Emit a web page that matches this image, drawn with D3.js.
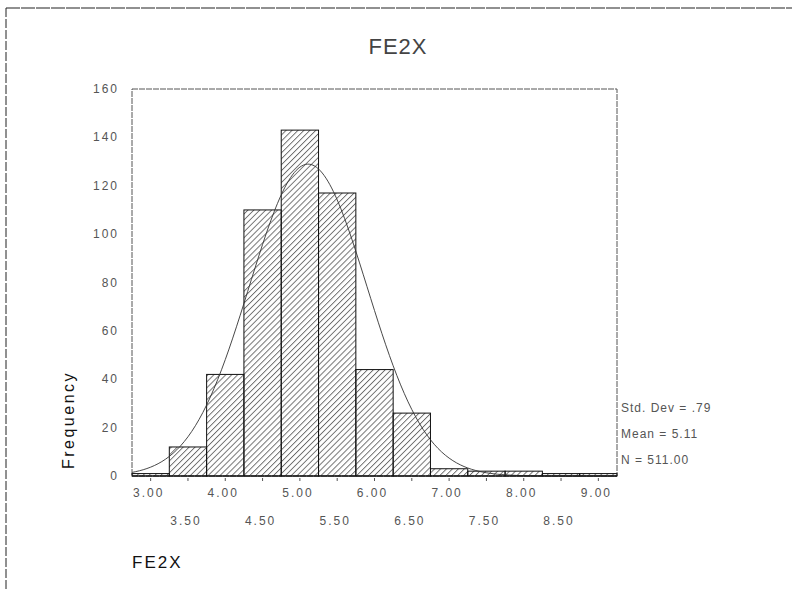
<!DOCTYPE html>
<html>
<head>
<meta charset="utf-8">
<script src="https://cdn.jsdelivr.net/npm/d3@7/dist/d3.min.js"></script>
<style>
  html, body { margin: 0; padding: 0; background: #fff; }
  svg { display: block; }
  text { font-family: "Liberation Sans", Arial, sans-serif; }
</style>
</head>
<body>
<svg id="chart" width="792" height="590"></svg>
<script>
// Histogram of FE2X with fitted normal curve
const binCenters = [3.0, 3.5, 4.0, 4.5, 5.0, 5.5, 6.0, 6.5, 7.0, 7.5, 8.0, 8.5, 9.0];
const frequencies = [1, 12, 42, 110, 143, 117, 44, 26, 3, 2, 2, 1, 1];
const binWidth = 0.5;

const yTicks = [0, 20, 40, 60, 80, 100, 120, 140, 160];
const xTicksUpper = [3.0, 4.0, 5.0, 6.0, 7.0, 8.0, 9.0];
const xTicksLower = [3.5, 4.5, 5.5, 6.5, 7.5, 8.5];

const statStdDev = 0.79;
const statMean = 5.11;
const statN = 511;
const statLabels = ["Std. Dev = .79", "Mean = 5.11", "N = 511.00"];

const titleText = "FE2X";
const yLabelText = "Frequency";
const xLabelText = "FE2X";

const svg = d3.select("#chart");

const plot = { left: 132, right: 617, top: 89, bottom: 476 };

const x = d3.scaleLinear().domain([2.75, 9.25]).range([plot.left, plot.right]);
const y = d3.scaleLinear().domain([0, 160]).range([plot.bottom, plot.top]);

// Diagonal hatch fill
const defs = svg.append("defs");
const pat = defs.append("pattern")
  .attr("id", "hatch")
  .attr("patternUnits", "userSpaceOnUse")
  .attr("width", 4.2).attr("height", 10)
  .attr("patternTransform", "rotate(45)");
pat.append("line")
  .attr("x1", 0.5).attr("y1", 0).attr("x2", 0.5).attr("y2", 10)
  .attr("stroke", "#444").attr("stroke-width", 0.8);

// Page frame (top and left edges)
svg.append("line").attr("x1", 6).attr("x2", 792).attr("y1", 8).attr("y2", 8)
  .attr("stroke", "#222").attr("stroke-width", 1.2).attr("stroke-dasharray", "14,1");
svg.append("line").attr("x1", 6).attr("x2", 6).attr("y1", 8).attr("y2", 590)
  .attr("stroke", "#222").attr("stroke-width", 1).attr("stroke-dasharray", "9,2");

// Title
svg.append("text")
  .attr("x", 398).attr("y", 54)
  .attr("text-anchor", "middle")
  .attr("font-size", 22).attr("fill", "#444")
  .attr("letter-spacing", 1)
  .text(titleText);

// Plot frame
svg.append("rect")
  .attr("x", plot.left).attr("y", plot.top)
  .attr("width", plot.right - plot.left).attr("height", plot.bottom - plot.top)
  .attr("fill", "none").attr("stroke", "#555").attr("stroke-width", 1)
  .attr("stroke-dasharray", "6,1");

// Bars
svg.append("g").selectAll("rect")
  .data(binCenters.map((c, i) => ({ c, f: frequencies[i] })))
  .join("rect")
  .attr("x", d => x(d.c - binWidth / 2))
  .attr("width", d => x(d.c + binWidth / 2) - x(d.c - binWidth / 2))
  .attr("y", d => y(d.f))
  .attr("height", d => y(0) - y(d.f))
  .attr("fill", "url(#hatch)")
  .attr("stroke", "#111").attr("stroke-width", 1);

// Fitted normal curve scaled to counts per bin
const normal = v => statN * binWidth / (statStdDev * Math.sqrt(2 * Math.PI)) *
  Math.exp(-0.5 * Math.pow((v - statMean) / statStdDev, 2));
const curvePts = d3.range(2.75, 9.2501, 0.05).map(v => [v, normal(v)]);
svg.append("path")
  .datum(curvePts)
  .attr("d", d3.line().x(d => x(d[0])).y(d => y(d[1])).curve(d3.curveBasis))
  .attr("fill", "none").attr("stroke", "#333").attr("stroke-width", 0.9);

// Baseline
svg.append("line")
  .attr("x1", plot.left).attr("x2", plot.right)
  .attr("y1", y(0)).attr("y2", y(0))
  .attr("stroke", "#111").attr("stroke-width", 1.2);

// Y axis labels
svg.append("g").selectAll("text")
  .data(yTicks)
  .join("text")
  .attr("x", 119).attr("y", d => y(d) + 4)
  .attr("text-anchor", "end")
  .attr("font-size", 12).attr("fill", "#555")
  .attr("letter-spacing", 2)
  .text(d => d);

// X axis ticks
svg.append("g").selectAll("line")
  .data(xTicksUpper.concat(xTicksLower))
  .join("line")
  .attr("x1", d => x(d)).attr("x2", d => x(d))
  .attr("y1", y(0) + 2).attr("y2", y(0) + 5)
  .attr("stroke", "#555").attr("stroke-width", 1);

// X axis labels, two staggered rows
svg.append("g").selectAll("text")
  .data(xTicksUpper)
  .join("text")
  .attr("x", d => x(d) - 2).attr("y", 497)
  .attr("text-anchor", "middle")
  .attr("font-size", 12).attr("fill", "#555")
  .attr("letter-spacing", 2)
  .text(d => d.toFixed(2));
svg.append("g").selectAll("text")
  .data(xTicksLower)
  .join("text")
  .attr("x", d => x(d) - 2).attr("y", 525)
  .attr("text-anchor", "middle")
  .attr("font-size", 12).attr("fill", "#555")
  .attr("letter-spacing", 2)
  .text(d => d.toFixed(2));

// Axis titles
svg.append("text")
  .attr("transform", "translate(74,420) rotate(-90)")
  .attr("text-anchor", "middle")
  .attr("font-size", 16).attr("fill", "#111")
  .attr("letter-spacing", 2.5)
  .text(yLabelText);
svg.append("text")
  .attr("x", 132).attr("y", 568)
  .attr("font-size", 17).attr("fill", "#111")
  .attr("letter-spacing", 2)
  .text(xLabelText);

// Summary statistics
svg.append("g").selectAll("text")
  .data(statLabels)
  .join("text")
  .attr("x", 621).attr("y", (d, i) => 412 + i * 26)
  .attr("font-size", 12).attr("fill", "#555")
  .attr("letter-spacing", 1)
  .text(d => d);
</script>
</body>
</html>
